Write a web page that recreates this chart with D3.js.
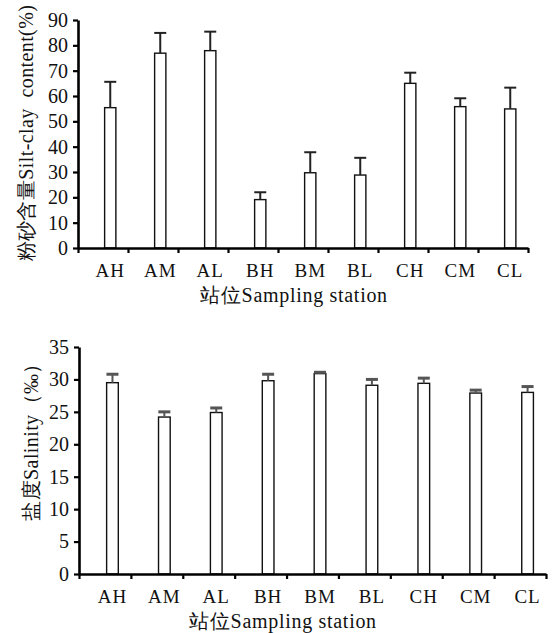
<!DOCTYPE html>
<html>
<head>
<meta charset="utf-8">
<script src="https://cdn.jsdelivr.net/npm/d3@7"></script>
<style>
  body { margin: 0; background: #fff; }
</style>
</head>
<body>
<div id="chart"></div>
<script>
// stations, same for both panels
const stations = ["AH", "AM", "AL", "BH", "BM", "BL", "CH", "CM", "CL"];

// silt-clay content (%) and upper error
const silt = [55.4, 76.9, 77.9, 19.1, 29.7, 28.8, 65.0, 55.8, 54.9];
const siltErr = [10.2, 8.0, 7.5, 2.9, 8.1, 6.8, 4.2, 3.3, 8.4];

// salinity (‰) and upper error
const salinity = [29.5, 24.2, 24.9, 29.8, 30.9, 29.1, 29.4, 27.9, 28.0];
const salinityErr = [1.3, 0.8, 0.7, 1.0, 0.2, 0.9, 0.8, 0.45, 0.9];

const siltTicks = [0, 10, 20, 30, 40, 50, 60, 70, 80, 90];
const salTicks = [0, 5, 10, 15, 20, 25, 30, 35];

const FONT = "Liberation Serif";

const svg = d3.select("#chart")
              .append("svg")
              .attr("width", 552)
              .attr("height", 633);

function panel(opt) {
    let g = svg.append("g");

    const x = d3.scaleBand()
                .domain(stations)
                .range([opt.x0, opt.x1]);
    const bw = x.bandwidth();
    const edge = d3.scaleLinear()
                   .domain([0, stations.length])
                   .range([opt.x0, opt.x1]);
    const y = d3.scaleLinear()
                .domain([0, opt.max])
                .range([opt.y0, opt.y1]);

    const cx = d => x(d) + bw * 0.645;
    const barW = bw * 0.225;

    // bars
    g.selectAll("rect")
     .data(opt.values)
     .enter()
     .append("rect")
     .attr("x", (d, i) => cx(stations[i]) - barW / 2)
     .attr("y", d => y(d))
     .attr("width", barW)
     .attr("height", d => y(0) - y(d))
     .style("fill", "#fff")
     .style("stroke", "#111")
     .style("stroke-width", 1.4);

    // error bars, upper only
    g.selectAll(".err")
     .data(opt.values)
     .enter()
     .append("line")
     .attr("x1", (d, i) => cx(stations[i]))
     .attr("x2", (d, i) => cx(stations[i]))
     .attr("y1", d => y(d))
     .attr("y2", (d, i) => y(d + opt.err[i]))
     .style("stroke", opt.errColor)
     .style("stroke-width", 2);

    g.selectAll(".cap")
     .data(opt.values)
     .enter()
     .append("line")
     .attr("x1", (d, i) => cx(stations[i]) - 6)
     .attr("x2", (d, i) => cx(stations[i]) + 6)
     .attr("y1", (d, i) => y(d + opt.err[i]))
     .attr("y2", (d, i) => y(d + opt.err[i]))
     .style("stroke", opt.errColor)
     .style("stroke-width", opt.capW);

    // y axis
    const yAxis = d3.axisLeft(y)
                    .tickValues(opt.ticks)
                    .tickSize(5)
                    .tickSizeOuter(0)
                    .tickPadding(5);
    let ya = g.append("g")
              .attr("transform", "translate(" + opt.x0 + ",0)")
              .call(yAxis);
    ya.selectAll("text")
      .style("font-family", FONT)
      .style("font-size", "20px")
      .style("fill", "#111");

    // x axis, ticks on the station borders
    const xAxis = d3.axisBottom(edge)
                    .tickValues(d3.range(stations.length + 1))
                    .tickFormat("")
                    .tickSize(5)
                    .tickSizeOuter(0);
    let xa = g.append("g")
              .attr("transform", "translate(0," + opt.y0 + ")")
              .call(xAxis);

    [ya, xa].forEach(a => {
        a.select(".domain").style("stroke", "#000").style("stroke-width", 2.6);
        a.selectAll(".tick line").style("stroke", "#000").style("stroke-width", 2.2);
    });

    g.selectAll(".xlab")
     .data(stations)
     .enter()
     .append("text")
     .attr("x", d => cx(d))
     .attr("y", opt.y0 + 29)
     .attr("text-anchor", "middle")
     .style("font-family", FONT)
     .style("font-size", "19px")
     .style("letter-spacing", "1px")
     .style("fill", "#111")
     .text(d => d);

    g.append("text")
     .attr("x", opt.titleX)
     .attr("y", opt.y0 + 54)
     .attr("text-anchor", "middle")
     .style("font-family", FONT)
     .style("font-size", "20px")
     .style("letter-spacing", "0.7px")
     .style("fill", "#111")
     .text("站位Sampling station");

    g.append("text")
     .attr("transform", "translate(" + opt.yTitleX + "," + opt.yTitleY + ") rotate(-90)")
     .attr("text-anchor", "middle")
     .style("font-family", FONT)
     .style("font-size", "20px")
     .style("letter-spacing", "0.4px")
     .style("white-space", "pre")
     .style("fill", "#111")
     .text(opt.yTitle);
}

panel({
    x0: 78, x1: 528, y0: 248, y1: 20, max: 90,
    values: silt, err: siltErr, ticks: siltTicks,
    errColor: "#222", capW: 2,
    titleX: 294, yTitleX: 33, yTitleY: 133,
    yTitle: "粉砂含量Silt-clay  content(%)"
});

panel({
    x0: 79, x1: 546, y0: 574, y1: 347, max: 35,
    values: salinity, err: salinityErr, ticks: salTicks,
    errColor: "#555", capW: 3,
    titleX: 283, yTitleX: 38, yTitleY: 437,
    yTitle: "盐度Salinity（‰）"
});
</script>
</body>
</html>
